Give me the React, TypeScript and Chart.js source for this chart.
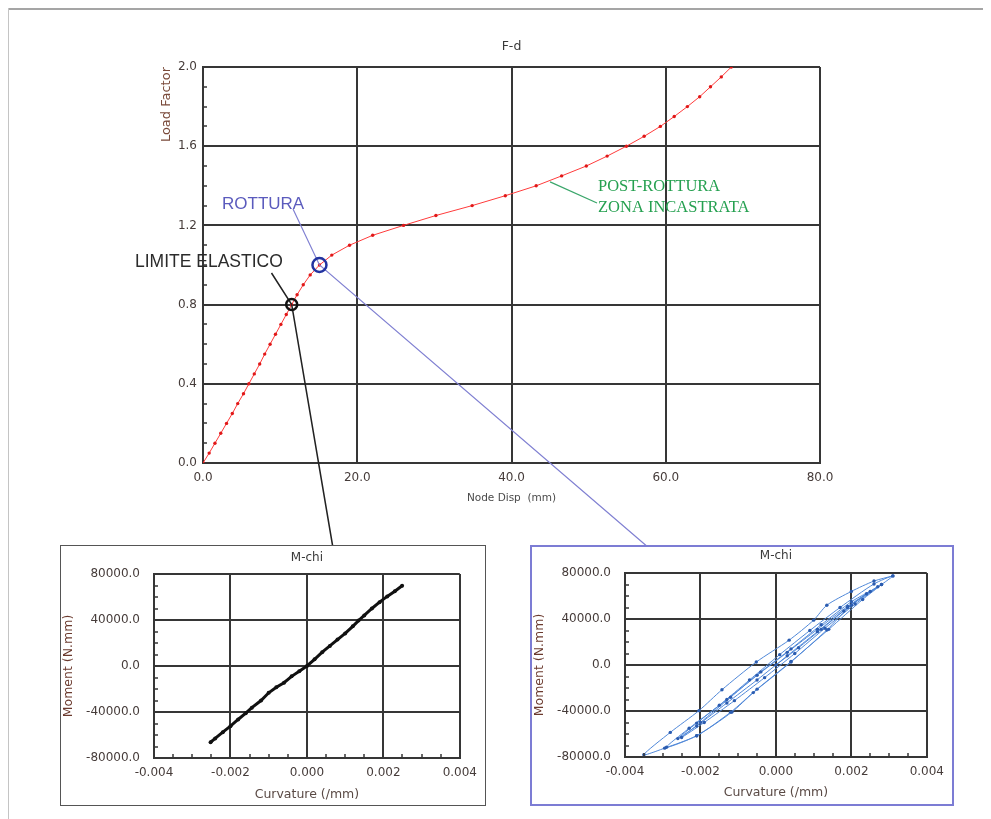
import React, { useEffect, useRef } from "react";
import { Chart, registerables } from "chart.js";

Chart.register(...registerables);

// ---------------- DATA ----------------
// Main F-d curve
const loadFactor = [
  0.0, 0.05, 0.1, 0.15, 0.2, 0.25, 0.3, 0.35, 0.4, 0.45, 0.5, 0.55, 0.6, 0.65, 0.7, 0.75, 0.8,
  0.85, 0.9, 0.95, 1.0, 1.05, 1.1, 1.15, 1.2, 1.25, 1.3, 1.35, 1.4, 1.45, 1.5, 1.55, 1.6, 1.65,
  1.7, 1.75, 1.8, 1.85, 1.9, 1.95, 2.0,
];
const nodeDisp = [
  0.0, 0.8, 1.55, 2.3, 3.05, 3.8, 4.5, 5.25, 5.95, 6.65, 7.35, 8.0, 8.7, 9.4, 10.1, 10.8, 11.5,
  12.2, 13.0, 13.9, 15.1, 16.7, 19.0, 22.0, 26.0, 30.2, 34.9, 39.2, 43.2, 46.5, 49.7, 52.4, 54.9,
  57.2, 59.3, 61.1, 62.8, 64.4, 65.8, 67.2, 68.5,
];
const elasticLimitLoad = 0.8;
const ruptureLoad = 1.0;

// Left inset: M-chi at elastic limit
const elasticChi = [
  -0.00252, -0.0024, -0.0022, -0.002, -0.0018, -0.0016, -0.00144, -0.0012, -0.001, -0.0008,
  -0.0006, -0.0004, -0.0002, 0.0, 0.0002, 0.0004, 0.0006, 0.0008, 0.001, 0.0012, 0.00135,
  0.0015, 0.0017, 0.0019, 0.0021, 0.0023, 0.00249,
];
const elasticMoment = [
  -66300, -63000, -57500, -52300, -46500, -41000, -36200, -30000, -23300, -18500, -14500, -9000,
  -4500, 0, 5800, 12000, 17500, 23000, 28300, 34500, 39500, 44000, 50000, 55500, 60500, 65000,
  69800,
];

// Right inset: M-chi at rupture (hysteresis path)
const ruptureChi = [
  0.0, 0.0006, 0.0012, 0.0018, 0.0024, 0.0027, 0.0021, 0.0013, 0.0005, -0.0003, -0.0011, -0.0019,
  -0.0025, -0.002, -0.0012, -0.0004, 0.0004, 0.0012, 0.002, 0.0025, 0.0019, 0.0011, 0.0003,
  -0.0005, -0.0013, -0.0021, -0.0026, -0.0021, -0.0013, -0.0005, 0.0003, 0.0011, 0.0019, 0.0028,
  0.0023, 0.0014, 0.0004, -0.0005, -0.0012, -0.0021, -0.0029, -0.0023, -0.0015, -0.0007, 0.0001,
  0.0009, 0.0017, 0.0026, 0.0031, 0.0028, 0.002, 0.00135, 0.0004, -0.0006, -0.00117, -0.0021,
  -0.00295, -0.0035, -0.0028, -0.00204, -0.00143, -0.00052, 0.00035, 0.001, 0.00135, 0.002, 0.0026,
  0.0031,
];
const ruptureMoment = [
  0, 15000, 31000, 47000, 62000, 68000, 53000, 32000, 10000, -11000, -31000, -50000, -63000,
  -50000, -28000, -6000, 14000, 35000, 55000, 64000, 50000, 29000, 8000, -13000, -33000, -53000,
  -64000, -50500, -30000, -9000, 11000, 31000, 51000, 70000, 57000, 31000, 3000, -21000, -41000,
  -61500, -71500, -55000, -35000, -13000, 9000, 30000, 50000, 70500, 77500, 70000, 52000, 30500,
  2600, -24000, -41000, -61500, -72300, -78000, -58600, -39700, -21500, 2600, 21600, 39000, 52000,
  64000, 73000, 77500,
];

// ---------------- STYLE ----------------
const FONT = "'DejaVu Sans', Verdana, sans-serif";
const TICK_COLOR = "#463c3a";
const GRID = "#363636";

const pts = (xs: number[], ys: number[]) => xs.map((x, i) => ({ x, y: ys[i] }));

function titlePlugin(id: string, text: string, y: number, size: number) {
  return {
    id,
    afterDraw(chart: any) {
      const { ctx, chartArea } = chart;
      ctx.save();
      ctx.font = `${size}px ${FONT}`;
      ctx.fillStyle = "#3a3a3a";
      ctx.textAlign = "center";
      ctx.textBaseline = "middle";
      ctx.fillText(text, (chartArea.left + chartArea.right) / 2, y);
      ctx.restore();
    },
  };
}

function minorTicksPlugin(id: string, xStep: number | null, yStep: number | null) {
  return {
    id,
    afterDraw(chart: any) {
      const { ctx, chartArea: a, scales } = chart;
      ctx.save();
      ctx.strokeStyle = GRID;
      ctx.lineWidth = 1.5;
      if (yStep) {
        const s = scales.y;
        const n = Math.round((s.max - s.min) / yStep);
        for (let i = 1; i < n; i++) {
          const y = Math.round(s.getPixelForValue(s.min + i * yStep));
          ctx.beginPath();
          ctx.moveTo(a.left, y);
          ctx.lineTo(a.left + 4, y);
          ctx.stroke();
        }
      }
      if (xStep) {
        const s = scales.x;
        const n = Math.round((s.max - s.min) / xStep);
        for (let i = 1; i < n; i++) {
          const x = Math.round(s.getPixelForValue(s.min + i * xStep));
          ctx.beginPath();
          ctx.moveTo(x, a.bottom);
          ctx.lineTo(x, a.bottom - 4);
          ctx.stroke();
        }
      }
      ctx.restore();
    },
  };
}

const idxOf = (v: number) => loadFactor.findIndex((l) => Math.abs(l - v) < 1e-9);

const annotationPlugin = {
  id: "fdAnnotations",
  afterDraw(chart: any) {
    const { ctx, scales } = chart;
    const sx = scales.x;
    const sy = scales.y;
    const ri = idxOf(ruptureLoad);
    const ei = idxOf(elasticLimitLoad);
    const r = { x: sx.getPixelForValue(nodeDisp[ri]), y: sy.getPixelForValue(loadFactor[ri]) };
    const e = { x: sx.getPixelForValue(nodeDisp[ei]), y: sy.getPixelForValue(loadFactor[ei]) };
    const g = { x: sx.getPixelForValue(45.0), y: sy.getPixelForValue(1.42) };
    ctx.save();
    // blue leader
    ctx.strokeStyle = "#8080d2";
    ctx.lineWidth = 1.2;
    ctx.beginPath();
    ctx.moveTo(285, 201);
    ctx.lineTo(r.x, r.y);
    ctx.lineTo(641, 540);
    ctx.stroke();
    // black leader
    ctx.strokeStyle = "#222";
    ctx.lineWidth = 1.5;
    ctx.beginPath();
    ctx.moveTo(263.5, 265);
    ctx.lineTo(e.x, e.y);
    ctx.lineTo(325, 540);
    ctx.stroke();
    // green leader
    ctx.strokeStyle = "#3aa66a";
    ctx.lineWidth = 1.2;
    ctx.beginPath();
    ctx.moveTo(g.x, g.y);
    ctx.lineTo(589, 195);
    ctx.stroke();
    // circles
    ctx.lineWidth = 2.5;
    ctx.strokeStyle = "#2233a0";
    ctx.beginPath();
    ctx.arc(r.x, r.y, 7, 0, Math.PI * 2);
    ctx.stroke();
    ctx.strokeStyle = "#111";
    ctx.beginPath();
    ctx.arc(e.x, e.y, 5.5, 0, Math.PI * 2);
    ctx.stroke();
    // texts
    ctx.textBaseline = "middle";
    ctx.textAlign = "left";
    ctx.font = "17px 'Liberation Sans', Arial, sans-serif";
    ctx.fillStyle = "#5b5bbd";
    ctx.fillText("ROTTURA", 214, 196);
    ctx.font = "17.5px 'Liberation Sans', Arial, sans-serif";
    ctx.fillStyle = "#2b2b2b";
    ctx.fillText("LIMITE ELASTICO", 127, 254);
    ctx.font = "16.5px 'Liberation Serif', 'Times New Roman', serif";
    ctx.fillStyle = "#25a050";
    ctx.fillText("POST-ROTTURA", 590, 178.7);
    ctx.fillText("ZONA INCASTRATA", 590, 199.3);
    ctx.restore();
  },
};

function ChartCanvas({ width, height, makeConfig }: { width: number; height: number; makeConfig: () => any }) {
  const ref = useRef<HTMLCanvasElement | null>(null);
  useEffect(() => {
    const chart = new Chart(ref.current as HTMLCanvasElement, makeConfig());
    return () => chart.destroy();
  }, []);
  return <canvas ref={ref} width={width} height={height} style={{ display: "block", width, height }} />;
}

const tickFont = { family: FONT, size: 12 };

function mainConfig() {
  return {
    type: "scatter",
    data: {
      datasets: [
        {
          data: pts(nodeDisp, loadFactor),
          showLine: true,
          borderColor: "#ff3b3b",
          borderWidth: 1,
          pointRadius: 1.7,
          pointBackgroundColor: "#e01818",
          pointBorderWidth: 0,
        },
      ],
    },
    options: {
      animation: false,
      responsive: false,
      maintainAspectRatio: false,
      layout: { padding: { left: 151, right: 171, top: 59, bottom: 314 } },
      plugins: { legend: { display: false }, tooltip: { enabled: false } },
      scales: {
        x: {
          type: "linear",
          min: 0,
          max: 80,
          ticks: {
            stepSize: 20,
            padding: 8,
            font: tickFont,
            color: TICK_COLOR,
            callback: (v: any) => Number(v).toFixed(1),
          },
          grid: { color: GRID, lineWidth: 2, drawTicks: false },
          border: { color: GRID, width: 2 },
          title: { display: true, text: "Node Disp  (mm)", font: { family: FONT, size: 10.5 }, color: "#4a4a4a", padding: 0 },
          afterFit: (s: any) => {
            s.height = 42;
          },
        },
        y: {
          type: "linear",
          min: 0,
          max: 2,
          ticks: {
            stepSize: 0.4,
            padding: 6,
            font: tickFont,
            color: TICK_COLOR,
            callback: (v: any) => Number(v).toFixed(1),
          },
          grid: { color: GRID, lineWidth: 2, drawTicks: false },
          border: { color: GRID, width: 2 },
          title: { display: true, text: "Load Factor", align: "end", font: { family: FONT, size: 13 }, color: "#7a4a3a", padding: 0 },
          afterFit: (s: any) => {
            s.width = 44;
          },
        },
      },
    },
    plugins: [titlePlugin("fdTitle", "F-d", 39, 12.5), minorTicksPlugin("fdMinor", null, 0.1), annotationPlugin],
  };
}

function insetConfig(
  id: string,
  chi: number[],
  moment: number[],
  line: { color: string; point: string; width: number; radius: number; tension: number },
  layout: { right: number; top: number; bottom: number; xh: number; titleY: number }
) {
  return {
    type: "scatter",
    data: {
      datasets: [
        {
          data: pts(chi, moment),
          showLine: true,
          borderColor: line.color,
          borderWidth: line.width,
          pointRadius: line.radius,
          pointBackgroundColor: line.point,
          pointBorderWidth: 0,
          tension: line.tension,
        },
      ],
    },
    options: {
      animation: false,
      responsive: false,
      maintainAspectRatio: false,
      layout: { padding: { left: 0, right: layout.right, top: layout.top, bottom: layout.bottom } },
      plugins: { legend: { display: false }, tooltip: { enabled: false } },
      scales: {
        x: {
          type: "linear",
          min: -0.004,
          max: 0.004,
          ticks: {
            stepSize: 0.002,
            padding: 8,
            font: tickFont,
            color: TICK_COLOR,
            callback: (v: any) => (Math.abs(Number(v)) < 1e-12 ? 0 : Number(v)).toFixed(3),
          },
          grid: { color: GRID, lineWidth: 2, drawTicks: false },
          border: { color: GRID, width: 2 },
          title: { display: true, text: "Curvature (/mm)", font: { family: FONT, size: 12.5 }, color: "#5a4a45", padding: 0 },
          afterFit: (s: any) => {
            s.height = layout.xh;
          },
        },
        y: {
          type: "linear",
          min: -80000,
          max: 80000,
          ticks: {
            stepSize: 40000,
            padding: 14,
            font: tickFont,
            color: TICK_COLOR,
            callback: (v: any) => Number(v).toFixed(1),
          },
          grid: { color: GRID, lineWidth: 2, drawTicks: false },
          border: { color: GRID, width: 2 },
          title: { display: true, text: "Moment (N.mm)", font: { family: FONT, size: 12.5 }, color: "#6b3a2e", padding: 0 },
          afterFit: (s: any) => {
            s.width = 93;
          },
        },
      },
    },
    plugins: [titlePlugin(id + "Title", "M-chi", layout.titleY, 12), minorTicksPlugin(id + "Minor", 0.0005, 10000)],
  };
}

export default function App() {
  return (
    <div style={{ position: "relative", width: 983, height: 811, background: "#fff", overflow: "hidden" }}>
      <div style={{ position: "absolute", left: 0, top: 0 }}>
        <ChartCanvas width={983} height={811} makeConfig={mainConfig} />
      </div>
      <div style={{ position: "absolute", left: 0, top: 0, width: 983, height: 2, background: "#a5a5a5" }} />
      <div style={{ position: "absolute", left: 0, top: 0, width: 1, height: 811, background: "#c4c4c4" }} />
      <div
        style={{
          position: "absolute",
          left: 52,
          top: 537,
          width: 426,
          height: 261,
          border: "1px solid #555",
          boxSizing: "border-box",
          background: "#fff",
        }}
      >
        <ChartCanvas
          width={424}
          height={259}
          makeConfig={() =>
            insetConfig(
              "left",
              elasticChi,
              elasticMoment,
              { color: "#111", point: "#111", width: 3, radius: 2, tension: 0 },
              { right: 24, top: 28, bottom: 3, xh: 44, titleY: 12 }
            )
          }
        />
      </div>
      <div
        style={{
          position: "absolute",
          left: 522,
          top: 537,
          width: 424,
          height: 261,
          border: "2px solid #7c7cd4",
          boxSizing: "border-box",
          background: "#fff",
        }}
      >
        <ChartCanvas
          width={420}
          height={257}
          makeConfig={() =>
            insetConfig(
              "right",
              ruptureChi,
              ruptureMoment,
              { color: "#5088d8", point: "#2b5cb0", width: 1, radius: 1.7, tension: 0.25 },
              { right: 20, top: 26, bottom: 4, xh: 43, titleY: 9 }
            )
          }
        />
      </div>
    </div>
  );
}
